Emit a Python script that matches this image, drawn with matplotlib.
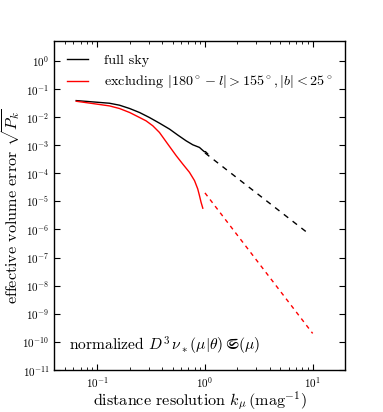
import numpy as np
import matplotlib
matplotlib.use('Agg')
import matplotlib.pyplot as plt
from matplotlib.ticker import LogLocator, NullLocator

plt.rcParams['font.family'] = 'serif'
plt.rcParams['font.serif'] = ['cmr10']
plt.rcParams['mathtext.fontset'] = 'cm'
plt.rcParams['axes.formatter.use_mathtext'] = True
plt.rcParams['axes.unicode_minus'] = False

# curva de cielo completo
k_full = [0.0638, 0.0911, 0.130, 0.161, 0.200, 0.247, 0.305, 0.378, 0.469,
          0.560, 0.668, 0.771, 0.889, 0.955, 0.99, 1.01, 1.06]
err_full = [0.0385, 0.0346, 0.0310, 0.0264, 0.0201, 0.0145, 0.00964, 0.00607,
            0.00372, 0.00228, 0.00143, 0.00103, 8.3e-4, 6.5e-4, 5.8e-4, 5.9e-4, 4.9e-4]

# curva excluyendo la región
k_cut = [0.0638, 0.0911, 0.130, 0.161, 0.200, 0.247, 0.284, 0.328, 0.378,
         0.452, 0.541, 0.622, 0.718, 0.800, 0.857, 0.889, 0.920, 0.955]
err_cut = [0.0365, 0.0302, 0.0249, 0.0201, 0.0145, 0.00964, 0.00733, 0.00488,
           0.00283, 0.00109, 4.21e-4, 2.13e-4, 1.08e-4, 5.47e-5, 2.77e-5,
           1.61e-5, 9.31e-6, 5.71e-6]

# extrapolaciones (líneas discontinuas)
k_full_ext = [1.0, 9.0]
err_full_ext = [5.3e-4, 7.5e-7]
k_cut_ext = [1.0, 10.0]
err_cut_ext = [2.0e-5, 2.0e-10]

fig = plt.figure(figsize=(3.83, 4.12), dpi=100)
ax = fig.add_axes([0.142, 0.102, 0.759, 0.798])

ax.plot(k_full, err_full, color='k', lw=1.0, label='full sky')
ax.plot(k_cut, err_cut, color='r', lw=1.0,
        label=r'excluding $|180^\circ - l| > 155^\circ, |b| < 25^\circ$')
ax.plot(k_full_ext, err_full_ext, color='k', lw=1.0, dashes=(4, 4))
ax.plot(k_cut_ext, err_cut_ext, color='r', lw=1.0, dashes=(3, 3))

ax.set_xscale('log')
ax.set_yscale('log')
ax.set_xlim(0.04, 20)
ax.set_ylim(1e-11, 5)
ax.yaxis.set_major_locator(LogLocator(base=10, numticks=20))
ax.yaxis.set_minor_locator(NullLocator())

ax.tick_params(which='both', direction='in', top=True, right=True, labelsize=8)
ax.tick_params(which='major', length=4, width=0.8)
ax.tick_params(which='minor', length=2, width=0.6)
for s in ax.spines.values():
    s.set_linewidth(1.0)

ax.set_xlabel(r'distance resolution $k_\mu\,(\mathrm{mag}^{-1})$', fontsize=11.6, labelpad=0.5)
ax.set_ylabel(r'effective volume error $\sqrt{P_k}$', fontsize=11.6, labelpad=0.5)

ax.legend(loc='upper left', frameon=False, fontsize=10.2, handlelength=1.5,
          handletextpad=1.1, borderaxespad=0.5)
ax.text(0.05, 0.06, r'normalized $D^3\,\nu_*(\mu|\theta)\,\mathfrak{S}(\mu)$',
        transform=ax.transAxes, fontsize=11.2)

fig.savefig('out.png', dpi=100)
